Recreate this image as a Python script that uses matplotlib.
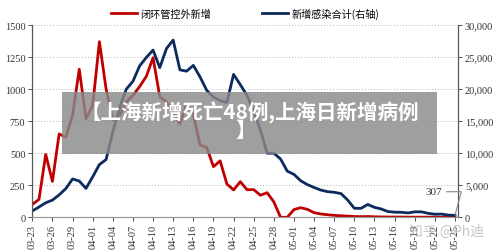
import matplotlib
matplotlib.use("Agg")
import matplotlib.pyplot as plt
import pandas as pd
from matplotlib.patches import Rectangle
from matplotlib.ticker import FuncFormatter

plt.rcParams['font.family'] = ['Liberation Serif', 'DejaVu Sans']
CJK = ['Noto Sans CJK SC', 'DejaVu Sans']

# daily data, 2022-03-23 .. 2022-05-25
dates = pd.date_range('2022-03-23', '2022-05-25', freq='D')
date_labels = [d.strftime('%m-%d') for d in dates]

# 闭环管控外新增 (left axis)
outside_control = [
    100, 140, 490, 280, 650, 625, 795, 1155, 770, 870,
    1370, 1000, 760, 790, 900, 950, 1020, 1100, 1245, 940,
    900, 820, 730, 880, 800, 565, 545, 395, 440, 260,
    213, 278, 215, 216, 172, 192, 120, 0, 0, 60,
    75, 62, 36, 26, 20, 15, 12, 9, 6, 5,
    6, 4, 3, 2, 2, 2, 1, 1, 1, 1,
    1, 0, 0, 0,
]

# 新增感染合计 (right axis)
total_new = [
    983, 1609, 2269, 2676, 3500, 4477, 5982, 5653, 4502, 6311,
    8226, 9006, 13354, 17077, 19982, 21222, 23624, 24943, 26087, 23342,
    26330, 27650, 23000, 22800, 23700, 21900, 19800, 18750, 18200, 17900,
    22300, 20700, 19000, 16600, 13600, 10000, 10000, 9100, 7200, 6700,
    5700, 5100, 4650, 4250, 4000, 3900, 3700, 2700, 1400, 1400,
    2000, 1550, 1300, 900, 800, 780, 680, 850, 850, 620,
    480, 500, 340, 307,
]

left_ticks = [0, 250, 500, 750, 1000, 1250, 1500]
right_ticks = [0, 5000, 10000, 15000, 20000, 25000, 30000]
last_label = '307'

headline_1 = '【上海新增死亡48例,上海日新增病例'
headline_2 = '】'
watermark = '知乎 @Ph迪'

RED = '#c00000'
NAVY = '#0c2a5c'

fig = plt.figure(figsize=(5.0, 2.51), dpi=100)
ax = fig.add_axes([0.0646, 0.1303, 0.8514, 0.7661])
ax2 = ax.twinx()

x = list(range(len(dates)))
l1, = ax.plot(x, outside_control, color=RED, lw=2.0, label='闭环管控外新增',
              solid_joinstyle='round')
l2, = ax2.plot(x, total_new, color=NAVY, lw=2.0, label='新增感染合计(右轴)',
               solid_joinstyle='round')

ax.set_xlim(0, len(dates) - 1 + 0.45)
ax.set_ylim(0, 1500)
ax2.set_ylim(0, 30000)
ax.set_yticks(left_ticks)
ax2.set_yticks(right_ticks)
ax2.yaxis.set_major_formatter(FuncFormatter(lambda v, p: f'{int(v):,}'))

ax.set_xticks(x[::3])
ax.set_xticklabels(date_labels[::3], rotation=90)

ax.grid(axis='y', linestyle=(0, (1, 2)), color='#b5b5b5', lw=0.7)
ax.set_axisbelow(True)

for a in (ax, ax2):
    a.spines['top'].set_visible(False)
    a.spines['left'].set_color('#555555')
    a.spines['right'].set_color('#555555')
    a.spines['bottom'].set_color('#999999')
    a.tick_params(labelsize=7.5, length=3, width=0.6, colors='#333333', pad=2)
ax.tick_params(axis='x', labelsize=7.5, length=3, pad=2)

ax.legend(handles=[l1, l2], loc='lower center', bbox_to_anchor=(0.5, 1.0),
          ncol=2, frameon=False, prop={'family': CJK, 'size': 7.3},
          handlelength=2.6, handletextpad=0.3, columnspacing=5.0,
          borderaxespad=0.2)

ax2.annotate(last_label, xy=(x[-1], total_new[-1]), xytext=(-9, 17),
             textcoords='offset points', ha='right', va='center',
             fontsize=8, color='#333333',
             arrowprops=dict(arrowstyle='-', color='#888888', lw=0.8,
                             shrinkA=1, shrinkB=0, relpos=(1, 0.5),
                             connectionstyle='angle,angleA=0,angleB=75'))

# grey news banner over the chart
fig.add_artist(Rectangle((0.124, 0.3825), 0.75, 0.247, transform=fig.transFigure,
                         facecolor='#8a8a8a', alpha=0.82, edgecolor='none', zorder=5))
fig.text(0.5, 0.55, headline_1, ha='center', va='center', color='white',
         fontsize=14.8, fontweight='bold', family=CJK, zorder=6)
fig.text(0.492, 0.482, headline_2, ha='center', va='center', color='white',
         fontsize=14.8, fontweight='bold', family=CJK, zorder=6)

fig.text(0.893, 0.077, watermark, ha='center', va='center', color='#bdbdbd',
         fontsize=10, family=CJK, alpha=0.85, zorder=6)

fig.savefig('out.png', dpi=100)
